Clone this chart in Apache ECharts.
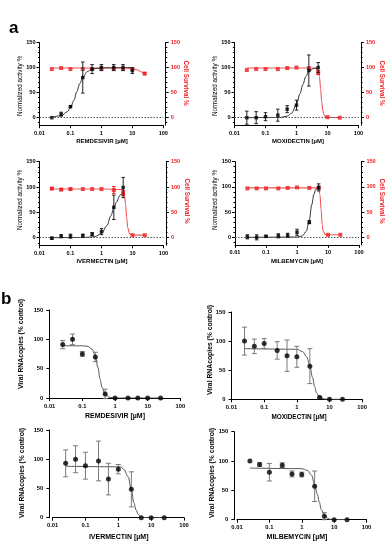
<!DOCTYPE html>
<html><head><meta charset="utf-8">
<script src="https://cdn.jsdelivr.net/npm/echarts@6/dist/echarts.min.js"></script>
<style>html,body{margin:0;padding:0;background:#fff}#c{width:391px;height:550px}</style>
</head><body><div id="c"></div>
<script>
// ---------- data ----------
const conc = [0.025, 0.05, 0.1, 0.25, 0.5, 1, 2.5, 5, 10, 25];
const yTicksA = [0, 50, 100, 150];
const yMinorA = [-10, 10, 20, 30, 40, 60, 70, 80, 90, 110, 120, 130, 140];
const drugs = ['REMDESIVIR', 'MOXIDECTIN', 'IVERMECTIN', 'MILBEMYCIN'];

// panel a: normalized activity (black) and cell survival (red)
const remAct = [0, 7, 22, 80, 97, 100, 100, 100, 94];
const remActErr = [0, 4, 2, 31, 9, 6, 6, 6, 6];
const remSurv = [97, 99, 97, 97, 97, 97, 97, 97, 97, 88];
const remSurvErr = [0, 0, 0, 0, 0, 0, 0, 0, 0, 2];
const remActFit = [[0.025,0.5],[0.05,4],[0.08,12],[0.1,20],[0.13,35],[0.16,52],[0.2,68],[0.25,80],[0.35,92],[0.5,97],[1,99.5],[10,100]];
const remSurvFit = [[0.025,99],[1,99],[5,99],[10,98],[15,95],[20,91],[25,87]];

const moxAct = [0, 0, 2, 5, 17, 25, 94, 100];
const moxActErr = [13, 12, 8, 12, 7, 10, 31, 10];
const moxSurv = [95, 97, 97, 97, 99, 100, 99, 90, 1, 0];
const moxSurvErr = [0, 0, 0, 0, 0, 0, 0, 4, 0, 0];
const moxActFit = [[0.025,0],[0.3,0.5],[0.5,3],[0.7,9],[1,27],[1.3,48],[1.6,66],[2,82],[2.5,92],[3.5,98],[5,100]];
const moxSurvFit = [[0.025,99],[1,99],[4,99],[5,94],[5.5,82],[6,58],[6.5,32],[7,15],[8,4],[10,1],[25,0]];

const ivmAct = [-1, 3, 3, 4, 7, 12, 60, 99];
const ivmActErr = [2, 3, 4, 3, 3, 6, 24, 20];
const ivmSurv = [97, 95, 96, 96, 96, 96, 94, 88, 5, 5];
const ivmSurvErr = [2, 2, 2, 0, 0, 0, 7, 5, 0, 0];
const ivmActFit = [[0.025,0],[0.3,0.5],[0.6,2],[1,8],[1.5,24],[2,43],[2.5,58],[3,70],[4,84],[5,91]];
const ivmSurvFit = [[0.025,96],[1,96],[4.5,95],[5,93],[5.5,85],[6,65],[6.5,40],[7,20],[8,8],[10,5],[25,5]];

const milAct = [1, 0, 2, 3, 4, 10, 30, 99];
const milActErr = [4, 5, 2, 4, 4, 6, 3, 7];
const milSurv = [97, 97, 97, 97, 98, 99, 98, 98, 5, 5];
const milSurvErr = [0, 0, 0, 0, 0, 0, 0, 3, 0, 0];
const milActFit = [[0.025,0],[1,0.5],[1.5,3],[2,12],[2.5,35],[3,65],[3.5,85],[4,95],[5,100]];
const milSurvFit = [[0.025,98],[1,98],[5,98],[5.5,85],[6,55],[6.5,25],[7,12],[8,6],[10,5],[25,5]];

// panel b: viral RNA copies (% control)
const remVir = [91, 100, 75, 70, 7, 0, 0, 0, 0, 0];
const remVirErr = [7, 9, 4, 8, 8, 0, 0, 0, 0, 0];
const remVirFit = [[0.025,89],[0.1,89],[0.15,88],[0.2,83],[0.25,72],[0.3,52],[0.35,32],[0.4,18],[0.5,6],[0.7,1],[1,0],[25,0]];
const moxVir = [100, 91, 96, 84, 75, 73, 57, 3, 0, 0];
const moxVirErr = [24, 12.5, 8.5, 15, 27, 18, 30, 2, 0, 0];
const moxVirFit = [[0.025,87],[1,86],[1.5,82],[2,73],[2.5,58],[3,38],[3.5,22],[4,11],[5,3],[7,0.5],[10,0],[25,0]];
const ivmVir = [93, 100, 89, 97, 66, 83, 48.5, 0, 0, 0];
const ivmVirErr = [23, 23, 23, 34, 27, 8, 30, 0, 0, 0];
const ivmVirFit = [[0.025,88],[1.2,87],[1.5,82],[2,70],[2.5,47],[3,25],[3.5,13],[4,6],[5,0.5],[7,0],[25,0]];
const milVir = [100, 94, 81, 93, 78, 77, 57, 6, 0, 0];
const milVirErr = [0, 3, 15, 4, 5, 4, 26, 6, 0, 0];
const milVirFit = [[0.025,88],[1,87],[1.5,84],[2,76],[2.5,60],[3,44],[3.5,30],[4,17],[5,7],[7,1],[10,0],[25,0]];

const panelAData = [
  [remAct, remActErr, remActFit, remSurv, remSurvErr, remSurvFit],
  [moxAct, moxActErr, moxActFit, moxSurv, moxSurvErr, moxSurvFit],
  [ivmAct, ivmActErr, ivmActFit, ivmSurv, ivmSurvErr, ivmSurvFit],
  [milAct, milActErr, milActFit, milSurv, milSurvErr, milSurvFit]
];
const panelBData = [
  [remVir, remVirErr, remVirFit],
  [moxVir, moxVirErr, moxVirFit],
  [ivmVir, ivmVirErr, ivmVirFit],
  [milVir, milVirErr, milVirFit]
];

// ---------- layout ----------
const FF = '"Liberation Sans", Arial, sans-serif';
const RED = '#ee1d23';
const layoutA = [
  {grid:{left:39.5,top:42.5,width:123.8,height:82.7}, xt:[102,141.5], yt:[20.7,86], rt:[186,83]},
  {grid:{left:234.5,top:42.5,width:124,height:82.7}, xt:[298,141.5], yt:[215.5,86], rt:[381.5,83]},
  {grid:{left:39.5,top:161.7,width:124,height:83.6}, xt:[102,261.5], yt:[20.7,200], rt:[186.5,201]},
  {grid:{left:235,top:161.7,width:124,height:83.2}, xt:[297,261.5], yt:[215.7,200], rt:[381.5,201]}
];
const layoutB = [
  {grid:{left:49.7,top:310,width:130.6,height:88}, off:0.4, xt:[115,416.5], yt:[20.7,344], fx:7},
  {grid:{left:231.5,top:312,width:130.7,height:87.3}, off:0, xt:[299,417.3], yt:[210,350], fx:6.4},
  {grid:{left:52.6,top:430,width:131.4,height:87.7}, off:3.3, xt:[118.7,536.7], yt:[21.7,473], fx:7},
  {grid:{left:237,top:431.7,width:129.5,height:88}, off:2.7, xt:[297,536.7], yt:[211.7,473], fx:7}
];

const fmtLog = v => String(Math.pow(10, Math.round(Math.log10(v))));

function errSeries(xi, yi, vals, errs, color, cap, z) {
  return {
    type: 'custom', xAxisIndex: xi, yAxisIndex: yi, z: z, silent: true,
    data: vals.map((v, k) => [conc[k], v, errs[k]]),
    encode: {x: 0, y: 1},
    renderItem: function (params, api) {
      const x = api.value(0), y = api.value(1), e = api.value(2);
      if (!e) return;
      const t = api.coord([x, y + e]), b = api.coord([x, y - e]);
      const w = cap / 2, st = {stroke: color, lineWidth: 1};
      return {type: 'group', children: [
        {type: 'line', shape: {x1: t[0], y1: t[1], x2: b[0], y2: b[1]}, style: st},
        {type: 'line', shape: {x1: t[0] - w, y1: t[1], x2: t[0] + w, y2: t[1]}, style: st},
        {type: 'line', shape: {x1: b[0] - w, y1: b[1], x2: b[0] + w, y2: b[1]}, style: st}
      ]};
    }
  };
}

const grid = [], xAxis = [], yAxis = [], series = [], graphic = [];

function addXAxis(gi, fs, margin) {
  xAxis.push({
    gridIndex: gi, type: 'log', logBase: 10, min: 0.01, max: 100, position: 'bottom',
    axisLine: {show: true, onZero: false, lineStyle: {color: '#000', width: 1}},
    axisTick: {show: true, length: 3, lineStyle: {color: '#000'}},
    minorTick: {show: false},
    axisLabel: {fontSize: fs, fontWeight: 'bold', color: '#000', fontFamily: FF, margin: margin, formatter: fmtLog},
    splitLine: {show: false}
  });
}

function txt(x, y, text, fs, weight, color, rot) {
  graphic.push({type: 'text', x: x, y: y, rotation: rot || 0, silent: true,
    style: {text: text, fontSize: fs, fontWeight: weight, fontFamily: FF, fill: color,
      align: 'center', verticalAlign: 'middle'}});
}

// panel a
layoutA.forEach((L, i) => {
  const gi = grid.length;
  grid.push(Object.assign({containLabel: false}, L.grid));
  addXAxis(gi, 5.6, 5);
  const xi = xAxis.length - 1;
  const base = {gridIndex: gi, type: 'value', min: -15, max: 150, splitLine: {show: false}};
  const yl = yAxis.length;
  yAxis.push(Object.assign({}, base, {position: 'left',
    axisLine: {show: true, lineStyle: {color: '#000', width: 1}},
    axisTick: {show: true, length: 3, customValues: yTicksA, lineStyle: {color: '#000'}},
    axisLabel: {customValues: yTicksA, fontSize: 5.6, fontWeight: 'bold', color: '#000', fontFamily: FF, margin: 4}}));
  const yr = yAxis.length;
  yAxis.push(Object.assign({}, base, {position: 'right', offset: 2.4,
    axisLine: {show: true, lineStyle: {color: '#000', width: 1}},
    axisTick: {show: true, length: 3, customValues: yTicksA, lineStyle: {color: '#000'}},
    axisLabel: {customValues: yTicksA, fontSize: 5.6, fontWeight: 'bold', color: RED, fontFamily: FF, margin: 5}}));
  yAxis.push(Object.assign({}, base, {position: 'left',
    axisLine: {show: false}, axisLabel: {show: false},
    axisTick: {show: true, length: 1.6, customValues: yMinorA, lineStyle: {color: '#000'}}}));
  yAxis.push(Object.assign({}, base, {position: 'right', offset: 2.4,
    axisLine: {show: false}, axisLabel: {show: false},
    axisTick: {show: true, length: 1.6, customValues: yMinorA, lineStyle: {color: '#000'}}}));

  const [act, actErr, actFit, surv, survErr, survFit] = panelAData[i];
  series.push({type: 'line', xAxisIndex: xi, yAxisIndex: yr, data: survFit, smooth: 0.35, smoothMonotone: 'x',
    showSymbol: false, silent: true, z: 2, lineStyle: {color: '#f25a5a', width: 1.1}});
  series.push({type: 'line', xAxisIndex: xi, yAxisIndex: yl, data: actFit, smooth: 0.35, smoothMonotone: 'x',
    showSymbol: false, silent: true, z: 3, lineStyle: {color: '#333', width: 1},
    markLine: {silent: true, symbol: 'none', label: {show: false}, animation: false,
      lineStyle: {type: [1.5, 1.5], color: '#555', width: 1}, data: [{yAxis: 0}]}});
  series.push(errSeries(xi, yr, surv, survErr, RED, 3.5, 4));
  series.push({type: 'scatter', xAxisIndex: xi, yAxisIndex: yr, data: surv.map((v, k) => [conc[k], v]),
    symbol: 'rect', symbolSize: 4, z: 5, itemStyle: {color: RED}});
  series.push(errSeries(xi, yl, act, actErr, '#222', 3.5, 6));
  series.push({type: 'scatter', xAxisIndex: xi, yAxisIndex: yl, data: act.map((v, k) => [conc[k], v]),
    symbol: 'rect', symbolSize: 3.5, z: 7, itemStyle: {color: '#000'}});

  txt(L.xt[0], L.xt[1], drugs[i] + ' [µM]', 6, 'bold', '#000');
  txt(L.yt[0], L.yt[1], 'Normalized activity %', 6.3, 'normal', '#000', Math.PI / 2);
  txt(L.rt[0], L.rt[1], 'Cell Survival %', 6.3, 'bold', RED, -Math.PI / 2);
});

// panel b
layoutB.forEach((L, j) => {
  const gi = grid.length;
  grid.push(Object.assign({containLabel: false}, L.grid));
  addXAxis(gi, 5.8, 5);
  const xi = xAxis.length - 1;
  const yi = yAxis.length;
  yAxis.push({gridIndex: gi, type: 'value', min: 0, max: 150, interval: 50, position: 'left', offset: L.off,
    splitLine: {show: false},
    axisLine: {show: true, lineStyle: {color: '#000', width: 1}},
    axisTick: {show: true, length: 3, lineStyle: {color: '#000'}},
    axisLabel: {fontSize: 5.8, fontWeight: 'bold', color: '#000', fontFamily: FF, margin: 6}});
  const [vir, virErr, virFit] = panelBData[j];
  series.push({type: 'line', xAxisIndex: xi, yAxisIndex: yi, data: virFit, smooth: 0.35, smoothMonotone: 'x',
    showSymbol: false, silent: true, z: 2, lineStyle: {color: '#555', width: 1}});
  series.push(errSeries(xi, yi, vir, virErr, '#7a7a7a', 5, 3));
  series.push({type: 'scatter', xAxisIndex: xi, yAxisIndex: yi, data: vir.map((v, k) => [conc[k], v]),
    symbol: 'circle', symbolSize: 5, z: 4, itemStyle: {color: '#000'}});
  txt(L.xt[0], L.xt[1], drugs[j] + ' [µM]', L.fx, 'bold', '#000');
  txt(L.yt[0], L.yt[1], 'Viral RNAcopies (% control)', 6.8, 'bold', '#000', Math.PI / 2);
});

// panel letters
graphic.push({type: 'text', x: 9, y: 20, silent: true,
  style: {text: 'a', fontSize: 17, fontWeight: 'bold', fontFamily: FF, fill: '#000', align: 'left', verticalAlign: 'alphabetic'}});
graphic.push({type: 'text', x: 1, y: 291, silent: true,
  style: {text: 'b', fontSize: 17, fontWeight: 'bold', fontFamily: FF, fill: '#000', align: 'left', verticalAlign: 'alphabetic'}});

const chart = echarts.init(document.getElementById('c'), null, {renderer: 'canvas'});
chart.setOption({
  animation: false,
  backgroundColor: '#fff',
  grid: grid, xAxis: xAxis, yAxis: yAxis, series: series, graphic: graphic
});
</script>
</body></html>
